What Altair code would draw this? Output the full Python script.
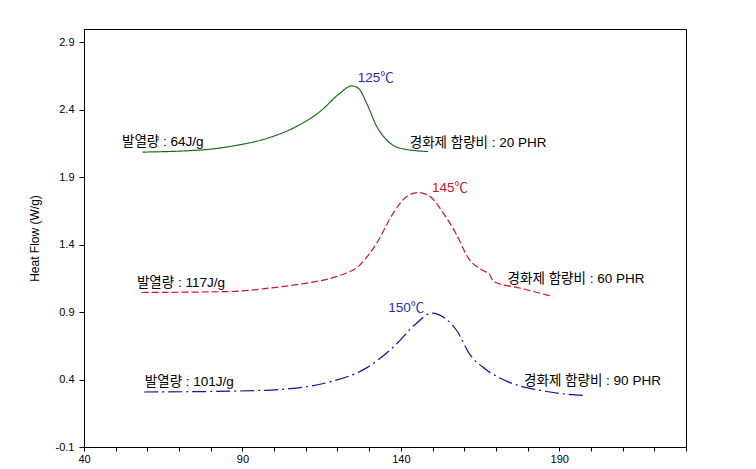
import altair as alt
import pandas as pd

# Curve data (temperature °C, heat flow W/g)
g_x = [58.5, 77.6, 87.1, 97.6, 106.0, 114.5, 120.8, 124.5, 126.6, 129.2, 132.4, 135.5, 139.7, 148.6]
g_y = [2.087, 2.104, 2.133, 2.188, 2.265, 2.388, 2.524, 2.578, 2.561, 2.450, 2.277, 2.178, 2.116, 2.091]

r_x = [58.2, 86.1, 98.7, 110.3, 119.8, 127.1, 132.4, 137.6, 141.9, 145.5, 149.2, 153.4, 157.6, 161.3, 165.5, 168.1, 169.2, 177.5, 188.0]
r_y = [1.046, 1.053, 1.079, 1.116, 1.165, 1.251, 1.412, 1.635, 1.758, 1.787, 1.758, 1.635, 1.474, 1.301, 1.214, 1.177, 1.128, 1.079, 1.016]

b_x = [59.0, 88.3, 105.2, 117.6, 128.9, 137.9, 144.6, 149.7, 153.6, 158.1, 161.5, 167.1, 173.9, 184.0, 198.7]
b_y = [0.308, 0.315, 0.333, 0.383, 0.483, 0.647, 0.810, 0.893, 0.861, 0.747, 0.596, 0.471, 0.383, 0.320, 0.280]

series_names = ["20 PHR", "60 PHR", "90 PHR"]
series_colors = ["#1a6e1a", "#d0142a", "#10109a"]
series_dash = [[1, 0], [7, 3], [14, 4, 2, 4]]

# Annotations
ann_text = ["발열량 : 64J/g", "경화제 함량비 : 20 PHR", "125℃",
            "발열량 : 117J/g", "경화제 함량비 : 60 PHR", "145℃",
            "발열량 : 101J/g", "경화제 함량비 : 90 PHR", "150℃"]
ann_x = [52.0, 142.8, 126.4, 56.7, 173.7, 149.8, 59.2, 178.9, 136.0]
ann_y = [2.163, 2.156, 2.637, 1.118, 1.148, 1.822, 0.379, 0.386, 0.93]
ann_color = ["#000000", "#000000", "#2a2ab8", "#000000", "#000000", "#d0142a", "#000000", "#000000", "#2a2ab8"]

x_ticks = list(range(40, 231, 10))
y_ticks = [-0.1, 0.4, 0.9, 1.4, 1.9, 2.4, 2.9]

rows = []
for name, xs, ys in zip(series_names, [g_x, r_x, b_x], [g_y, r_y, b_y]):
    for i, (a, b) in enumerate(zip(xs, ys)):
        rows.append({"series": name, "x": a, "y": b, "order": i})
curves = pd.DataFrame(rows)
ann = pd.DataFrame({"text": ann_text, "x": ann_x, "y": ann_y, "c": ann_color})

xscale = alt.Scale(domain=[40, 230], nice=False, zero=False)
yscale = alt.Scale(domain=[-0.1, 3.0], nice=False, zero=False)

font = "Liberation Sans, Arial, Noto Sans CJK KR, sans-serif"

x_axis = alt.Axis(values=x_ticks, labelExpr="(datum.value - 40) % 50 == 0 ? datum.label : ''",
                  grid=False, tickSize=4, tickColor="black", domainColor="black",
                  labelColor="black", labelFont=font, labelFontSize=11, labelPadding=2,
                  labelFlush=False, labelOverlap=False)
y_axis = alt.Axis(values=y_ticks, labelExpr="replace(datum.label, '\u2212', '-')",
                  format=".1f", grid=False, tickSize=5, tickColor="black", labelOverlap=False,
                  domainColor="black", labelColor="black", labelFont=font, labelFontSize=11,
                  labelPadding=5, titleFont=font, titleFontSize=12, titleFontWeight="normal",
                  titleColor="black", titlePadding=14)

lines = alt.Chart(curves).mark_line(interpolate="monotone", strokeWidth=1.2).encode(
    x=alt.X("x:Q", scale=xscale, title=None, axis=x_axis),
    y=alt.Y("y:Q", scale=yscale, title="Heat Flow (W/g)", axis=y_axis),
    color=alt.Color("series:N", scale=alt.Scale(domain=series_names, range=series_colors), legend=None),
    strokeDash=alt.StrokeDash("series:N", scale=alt.Scale(domain=series_names, range=series_dash), legend=None),
    order="order:Q",
)

texts = alt.Chart(ann).mark_text(align="left", baseline="middle", font=font, fontSize=13.5).encode(
    x=alt.X("x:Q", scale=xscale, title=None, axis=x_axis),
    y=alt.Y("y:Q", scale=yscale, title="Heat Flow (W/g)", axis=y_axis),
    text="text:N",
    color=alt.Color("c:N", scale=None),
)

chart = alt.layer(lines, texts).properties(
    width=602, height=418,
    autosize=alt.AutoSizeParams(type="none"),
    padding={"left": 84, "top": 29, "right": 70, "bottom": 22},
    background="white",
).configure_view(stroke="black", strokeWidth=1)

chart.save("out.html", embed_options={"renderer": "svg", "actions": False})
